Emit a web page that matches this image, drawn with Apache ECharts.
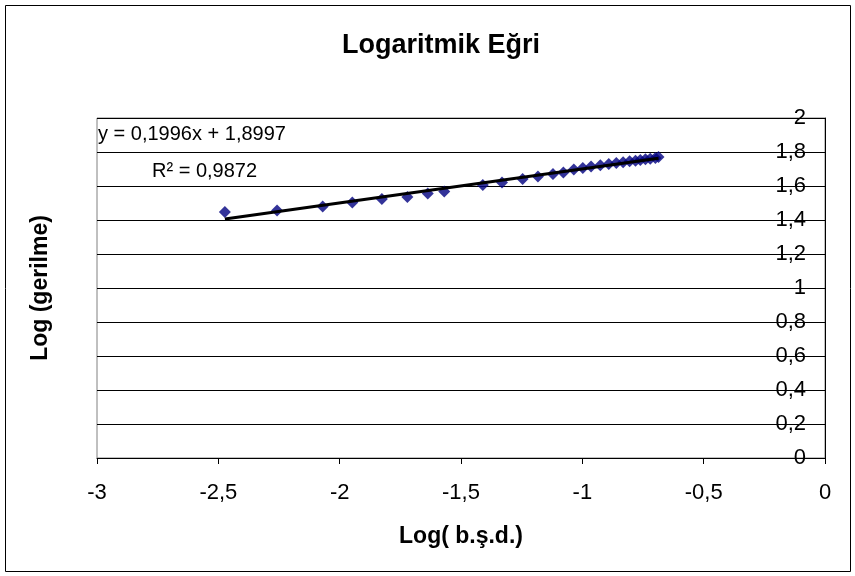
<!DOCTYPE html>
<html>
<head>
<meta charset="utf-8">
<script src="https://cdn.jsdelivr.net/npm/echarts@6/dist/echarts.min.js"></script>
<style>
  html, body { margin: 0; padding: 0; background: #fff; }
  #chart { width: 855px; height: 576px; }
</style>
</head>
<body>
<div id="chart"></div>
<script>
// değerler
var logStrain = [-2.473, -2.258, -2.070, -1.948, -1.826, -1.721, -1.637, -1.569, -1.410, -1.331,
  -1.246, -1.183, -1.121, -1.078, -1.035, -0.998, -0.964, -0.926, -0.891, -0.860,
  -0.832, -0.805, -0.781, -0.761, -0.740, -0.720, -0.699, -0.686];
var logStress = [1.447, 1.456, 1.479, 1.503, 1.524, 1.535, 1.556, 1.568, 1.606, 1.621,
  1.641, 1.656, 1.671, 1.679, 1.697, 1.706, 1.714, 1.722, 1.729, 1.735,
  1.740, 1.745, 1.749, 1.753, 1.757, 1.761, 1.765, 1.770];
var slope = 0.1996;
var intercept = 1.8997;
var eqText = 'y = 0,1996x + 1,8997';
var r2Text = 'R² = 0,9872';

var font = '"Liberation Sans", Arial, sans-serif';

function trMark(v) {
  return String(Number(v.toFixed(2))).replace('.', ',');
}

var points = logStrain.map(function (x, i) { return [x, logStress[i]]; });
var xMin = Math.min.apply(null, logStrain);
var xMax = Math.max.apply(null, logStrain);
var trend = [[xMin, slope * xMin + intercept], [xMax, slope * xMax + intercept]];

var myChart = echarts.init(document.getElementById('chart'));
myChart.setOption({
  animation: false,
  backgroundColor: '#fff',
  grid: {
    left: 97, right: 30, top: 118, bottom: 118,
    show: true, borderColor: '#808080', borderWidth: 1, backgroundColor: '#fff'
  },
  xAxis: {
    type: 'value', min: -3, max: 0, interval: 0.5,
    name: 'Log( b.ş.d.)', nameLocation: 'middle', nameGap: 67,
    nameTextStyle: { fontFamily: font, fontSize: 23, fontWeight: 'bold', color: '#000' },
    axisLine: { show: true, onZero: false, lineStyle: { color: '#000', width: 1 } },
    axisTick: { show: true, length: 6, lineStyle: { color: '#000' } },
    axisLabel: { margin: 24, fontFamily: font, fontSize: 22, color: '#000', formatter: trMark },
    splitLine: { show: false }
  },
  yAxis: {
    type: 'value', position: 'right', min: 0, max: 2, interval: 0.2,
    axisLine: { show: true, onZero: false, lineStyle: { color: '#000', width: 1 } },
    axisTick: { show: false },
    axisLabel: { inside: true, margin: 19, fontFamily: font, fontSize: 22, color: '#000', formatter: trMark },
    splitLine: { show: true, lineStyle: { color: '#000', width: 1 } }
  },
  series: [
    {
      type: 'scatter', data: points, symbol: 'diamond', symbolSize: 12,
      itemStyle: { color: '#000080' }, z: 3
    },
    {
      type: 'line', data: trend, symbol: 'none',
      lineStyle: { color: '#000', width: 3 }, z: 4
    }
  ],
  graphic: [
    {
      type: 'rect', shape: { x: 5.5, y: 5.5, width: 845, height: 566 },
      style: { fill: null, stroke: '#000', lineWidth: 1 }, silent: true, z: 100
    },
    {
      type: 'text', x: 441, y: 46,
      style: { text: 'Logaritmik Eğri', font: 'bold 27px ' + font, fill: '#000', textAlign: 'center', textVerticalAlign: 'middle' }
    },
    {
      type: 'text', x: 41, y: 288, rotation: Math.PI / 2,
      style: { text: 'Log (gerilme)', font: 'bold 23px ' + font, fill: '#000', textAlign: 'center', textVerticalAlign: 'middle' }
    },
    {
      type: 'text', x: 98, y: 134, z: 50,
      style: { text: eqText, font: '20px ' + font, fill: '#000', textAlign: 'left', textVerticalAlign: 'middle' }
    },
    {
      type: 'text', x: 152, y: 171, z: 50,
      style: { text: r2Text, font: '20px ' + font, fill: '#000', textAlign: 'left', textVerticalAlign: 'middle' }
    }
  ]
});
</script>
</body>
</html>
